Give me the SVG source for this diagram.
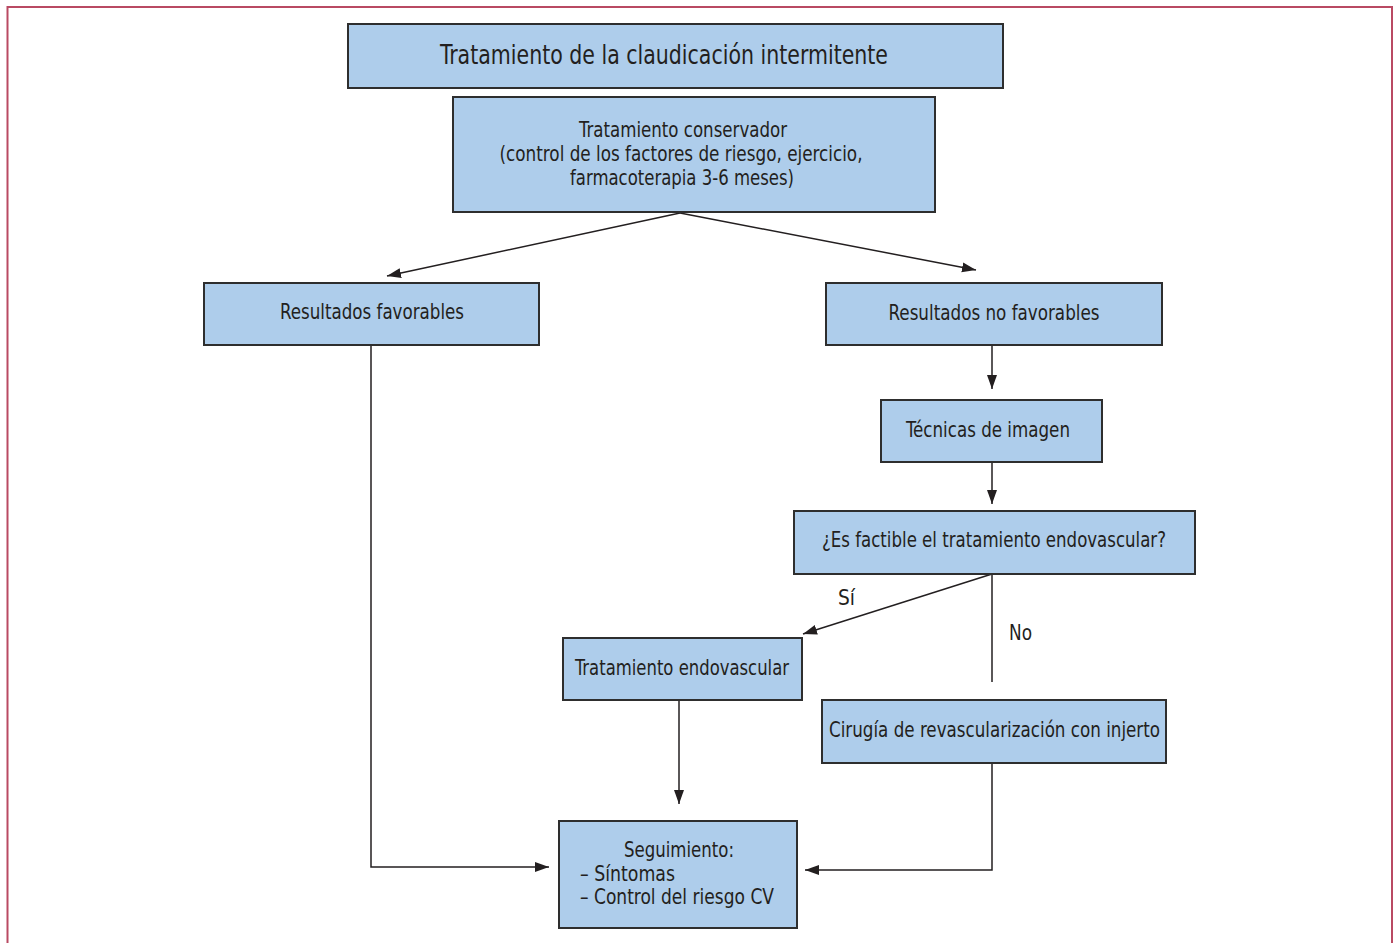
<svg xmlns="http://www.w3.org/2000/svg" width="1396" height="943" viewBox="0 0 1396 943">
<defs>
<style>
.box{fill:#aecdeb;stroke:#2e2e2e;stroke-width:2}
.t{font-family:"Liberation Sans Narrow","Arial Narrow","DejaVu Sans Condensed","Liberation Sans",sans-serif;font-stretch:condensed;font-size:21px;fill:#231f20}
.c{text-anchor:middle}
.big{font-size:27px}
.ln{fill:none;stroke:#231f20;stroke-width:1.5}
</style>
<marker id="ah" markerUnits="userSpaceOnUse" markerWidth="15" markerHeight="12" refX="14" refY="5" orient="auto" viewBox="0 0 15 10">
<path d="M0,0 L14,5 L0,10 z" fill="#231f20"/>
</marker>
</defs>
<rect width="1396" height="943" fill="#ffffff"/>
<path d="M7.5,950 L7.5,7 L1392,7 L1392,950" fill="none" stroke="#b94a63" stroke-width="2"/>

<g id="connectors">
<line class="ln" x1="680" y1="213" x2="387" y2="276" marker-end="url(#ah)"/>
<line class="ln" x1="680" y1="213" x2="976" y2="270" marker-end="url(#ah)"/>
<line class="ln" x1="992" y1="346" x2="992" y2="389" marker-end="url(#ah)"/>
<line class="ln" x1="992" y1="462" x2="992" y2="504" marker-end="url(#ah)"/>
<line class="ln" x1="992" y1="574" x2="803" y2="634" marker-end="url(#ah)"/>
<line class="ln" x1="992" y1="574" x2="992" y2="682"/>
<line class="ln" x1="679" y1="700" x2="679" y2="804" marker-end="url(#ah)"/>
<polyline class="ln" points="371,346 371,867 549,867" marker-end="url(#ah)"/>
<polyline class="ln" points="992,763 992,870 805,870" marker-end="url(#ah)"/>
<text class="t" x="838" y="605" textLength="17" lengthAdjust="spacingAndGlyphs">Sí</text>
<text class="t" x="1009" y="640" textLength="23" lengthAdjust="spacingAndGlyphs">No</text>
</g>

<g id="n-title">
<rect class="box" x="348" y="24" width="655" height="64"/>
<text class="t big c" x="664" y="64" textLength="448" lengthAdjust="spacingAndGlyphs">Tratamiento de la claudicación intermitente</text>
</g>
<g id="n-conservador">
<rect class="box" x="453" y="97" width="482" height="115"/>
<text class="t c" x="683" y="137" textLength="208" lengthAdjust="spacingAndGlyphs">Tratamiento conservador</text>
<text class="t c" x="681" y="161" textLength="363" lengthAdjust="spacingAndGlyphs">(control de los factores de riesgo, ejercicio,</text>
<text class="t c" x="682" y="185" textLength="224" lengthAdjust="spacingAndGlyphs">farmacoterapia 3-6 meses)</text>
</g>
<g id="n-favorables">
<rect class="box" x="204" y="283" width="335" height="62"/>
<text class="t c" x="372" y="319" textLength="184" lengthAdjust="spacingAndGlyphs">Resultados favorables</text>
</g>
<g id="n-nofavorables">
<rect class="box" x="826" y="283" width="336" height="62"/>
<text class="t c" x="994" y="320" textLength="211" lengthAdjust="spacingAndGlyphs">Resultados no favorables</text>
</g>
<g id="n-imagen">
<rect class="box" x="881" y="400" width="221" height="62"/>
<text class="t c" x="988" y="437" textLength="164" lengthAdjust="spacingAndGlyphs">Técnicas de imagen</text>
</g>
<g id="n-factible">
<rect class="box" x="794" y="511" width="401" height="63"/>
<text class="t c" x="994" y="547" textLength="344" lengthAdjust="spacingAndGlyphs">¿Es factible el tratamiento endovascular?</text>
</g>
<g id="n-endovascular">
<rect class="box" x="563" y="638" width="239" height="62"/>
<text class="t c" x="682" y="675" textLength="214" lengthAdjust="spacingAndGlyphs">Tratamiento endovascular</text>
</g>
<g id="n-cirugia">
<rect class="box" x="822" y="700" width="344" height="63"/>
<text class="t c" x="994.5" y="737" textLength="331" lengthAdjust="spacingAndGlyphs">Cirugía de revascularización con injerto</text>
</g>
<g id="n-seguimiento">
<rect class="box" x="559" y="821" width="238" height="107"/>
<text class="t c" x="679" y="857" textLength="110" lengthAdjust="spacingAndGlyphs">Seguimiento:</text>
<text class="t" x="580" y="881" textLength="95" lengthAdjust="spacingAndGlyphs">– Síntomas</text>
<text class="t" x="580" y="904" textLength="194" lengthAdjust="spacingAndGlyphs">– Control del riesgo CV</text>
</g>
</svg>
